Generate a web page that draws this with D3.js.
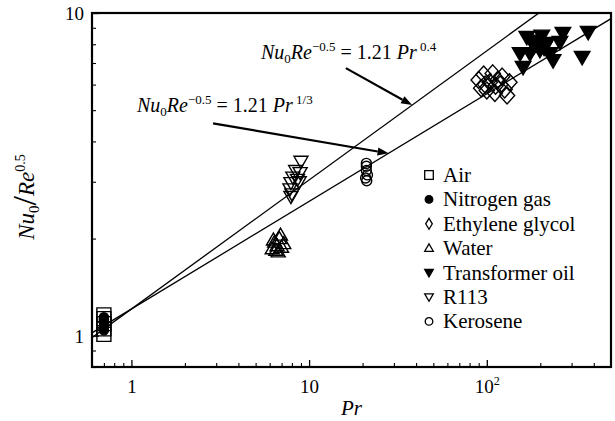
<!DOCTYPE html>
<html>
<head>
<meta charset="utf-8">
<script src="https://cdn.jsdelivr.net/npm/d3@7"></script>
<style>
  body { margin: 0; background: #fff; }
</style>
</head>
<body>
<svg id="chart" width="615" height="421"></svg>
<script>
// ---- data: Prandtl number vs. Nu0 / Re^0.5 for several fluids ----
const airPr   = [0.7, 0.7, 0.7, 0.7, 0.7];
const airNu   = [1.01, 1.05, 1.09, 1.13, 1.16];

const n2Pr    = [0.7, 0.7, 0.7, 0.7, 0.7];
const n2Nu    = [1.04, 1.07, 1.10, 1.12, 1.14];

const egPr    = [90, 93, 96, 100, 104, 108, 111, 115, 119, 122, 126, 130, 98, 134, 112];
const egNu    = [6.2, 5.85, 6.45, 5.75, 6.1, 6.5, 5.65, 6.2, 6.0, 6.35, 5.8, 5.55, 6.0, 6.1, 5.95];

const waterPr = [6.2, 6.4, 6.5, 6.6, 6.8, 6.9, 7.0, 7.2, 6.3, 6.7];
const waterNu = [1.86, 1.95, 1.84, 1.9, 2.0, 2.05, 1.88, 1.93, 1.98, 1.82];

const oilPr   = [154, 160, 168, 175, 180, 191, 199, 204, 218, 227, 236, 258, 268, 344, 372, 185, 210];
const oilNu   = [7.5, 6.8, 8.42, 7.5, 8.13, 8.2, 7.67, 8.5, 8.07, 7.5, 7.14, 8.13, 8.67, 7.3, 8.73, 7.9, 7.8];

const r113Pr  = [9.0, 8.4, 8.9, 8.1, 8.6, 7.9, 8.8, 7.8, 8.0, 7.9];
const r113Nu  = [3.47, 3.25, 3.2, 3.1, 3.05, 2.98, 3.0, 2.85, 2.75, 2.7];

const keroPr  = [21, 21, 21, 21.3, 20.8, 21.1];
const keroNu  = [3.42, 3.35, 3.25, 3.15, 3.08, 3.02];

// correlations Nu0 Re^-0.5 = C Pr^n
const fitCoef = [1.21, 1.21];
const fitExp  = [0.4, 1 / 3];

// annotation anchors (data space): label start, arrow tail, Pr where the arrow meets its line
const labelPr   = [5.36, 1.075];
const labelNu   = [7.2, 4.93];
const tailPr    = [16.1, 2.88];
const tailNu    = [6.75, 4.55];
const headPr    = [38, 28];

const legendNames = ["Air", "Nitrogen gas", "Ethylene glycol", "Water", "Transformer oil", "R113", "Kerosene"];

const prDomain = [0.6, 500];
const nuDomain = [0.8, 10];
const xMajor = [1, 10, 100];
const xMinor = [0.6, 0.7, 0.8, 0.9, 2, 3, 4, 5, 6, 7, 8, 9, 20, 30, 40, 50, 60, 70, 80, 90, 200, 300, 400];
const yMajor = [1, 10];
const yMinor = [0.8, 0.9, 2, 3, 4, 5, 6, 7, 8, 9];

// ---- layout ----
const FONT = '"Liberation Serif"';
const W = 615, H = 421;
const margin = { top: 13, right: 4, bottom: 54, left: 92 };
const svg = d3.select("#chart");

const x = d3.scaleLog().domain(prDomain).range([margin.left, W - margin.right]);
const y = d3.scaleLog().domain(nuDomain).range([H - margin.bottom, margin.top]);

function serif(sel, size) {
  return sel.style("font-family", FONT).attr("font-size", size).attr("fill", "#000");
}

const series = [
  { name: legendNames[0], pr: airPr,   nu: airNu,   shape: "square",  filled: false, size: 7 },
  { name: legendNames[1], pr: n2Pr,    nu: n2Nu,    shape: "circle",  filled: true,  size: 4.6 },
  { name: legendNames[2], pr: egPr,    nu: egNu,    shape: "diamond", filled: false, size: 8.5 },
  { name: legendNames[3], pr: waterPr, nu: waterNu, shape: "triUp",   filled: false, size: 7 },
  { name: legendNames[4], pr: oilPr,   nu: oilNu,   shape: "triDown", filled: true,  size: 7.8 },
  { name: legendNames[5], pr: r113Pr,  nu: r113Nu,  shape: "triDown", filled: false, size: 7 },
  { name: legendNames[6], pr: keroPr,  nu: keroNu,  shape: "circle",  filled: false, size: 5 }
];

function shapePath(type, cx, cy, s, dx = 0.9) {
  const p = d3.path();
  switch (type) {
    case "square":
      p.rect(cx - s, cy - s, 2 * s, 2 * s); break;
    case "circle":
      p.moveTo(cx + s, cy); p.arc(cx, cy, s, 0, 2 * Math.PI); p.closePath(); break;
    case "diamond":
      p.moveTo(cx, cy - s); p.lineTo(cx + s * dx, cy); p.lineTo(cx, cy + s); p.lineTo(cx - s * dx, cy); p.closePath(); break;
    case "triUp":
      p.moveTo(cx, cy - s); p.lineTo(cx + s, cy + s * 0.72); p.lineTo(cx - s, cy + s * 0.72); p.closePath(); break;
    case "triDown":
      p.moveTo(cx - s, cy - s * 0.72); p.lineTo(cx + s, cy - s * 0.72); p.lineTo(cx, cy + s); p.closePath(); break;
  }
  return p.toString();
}

// clip for the correlation lines
svg.append("defs").append("clipPath").attr("id", "plotClip")
  .append("rect")
  .attr("x", margin.left).attr("y", margin.top)
  .attr("width", W - margin.left - margin.right)
  .attr("height", H - margin.top - margin.bottom);

// ---- axes (ticks point inward) ----
const xAxisY = H - margin.bottom;
const gx = svg.append("g").attr("transform", `translate(0,${xAxisY})`);
gx.call(d3.axisBottom(x).tickValues(xMajor).tickSize(-7).tickFormat(() => ""));
gx.call(g => g.select(".domain").remove());
gx.selectAll(".tick line").attr("stroke", "#000").attr("stroke-width", 1.3);
gx.selectAll(".tick text").remove();
gx.selectAll(".tick").append("text")
  .attr("y", 26).attr("text-anchor", "middle")
  .call(serif, 19)
  .each(function (d) {
    const t = d3.select(this);
    if (d >= 100) {
      const e = Math.round(Math.log10(d));
      t.append("tspan").text("10");
      t.append("tspan").attr("dy", -8).attr("font-size", 12).text(e);
    } else {
      t.text(d);
    }
  });

const gxm = svg.append("g").attr("transform", `translate(0,${xAxisY})`);
gxm.call(d3.axisBottom(x).tickValues(xMinor).tickSize(-4).tickFormat(""));
gxm.call(g => g.select(".domain").remove());
gxm.selectAll(".tick line").attr("stroke", "#000").attr("stroke-width", 1.1);

const gy = svg.append("g").attr("transform", `translate(${margin.left},0)`);
gy.call(d3.axisLeft(y).tickValues(yMajor).tickSize(-7).tickPadding(8).tickFormat(d3.format("d")));
gy.call(g => g.select(".domain").remove());
gy.selectAll(".tick line").attr("stroke", "#000").attr("stroke-width", 1.3);
gy.selectAll(".tick text").call(serif, 19).attr("dy", "0.35em");

const gym = svg.append("g").attr("transform", `translate(${margin.left},0)`);
gym.call(d3.axisLeft(y).tickValues(yMinor).tickSize(-4).tickFormat(""));
gym.call(g => g.select(".domain").remove());
gym.selectAll(".tick line").attr("stroke", "#000").attr("stroke-width", 1.1);

// plot frame
svg.append("rect")
  .attr("x", margin.left).attr("y", margin.top)
  .attr("width", W - margin.left - margin.right)
  .attr("height", H - margin.top - margin.bottom)
  .attr("fill", "none").attr("stroke", "#000").attr("stroke-width", 2.2);

// ---- correlation lines ----
const line = d3.line().x(d => x(d[0])).y(d => y(d[1]));
const fitG = svg.append("g").attr("clip-path", "url(#plotClip)");
fitCoef.forEach((c, i) => {
  const pts = prDomain.map(p => [p, c * Math.pow(p, fitExp[i])]);
  fitG.append("path").attr("d", line(pts))
    .attr("fill", "none").attr("stroke", "#000").attr("stroke-width", 1.3);
});

// ---- data markers ----
const markG = svg.append("g");
series.forEach(s => {
  markG.append("g").selectAll("path")
    .data(s.pr.map((p, i) => [p, s.nu[i]]))
    .join("path")
    .attr("d", d => shapePath(s.shape, x(d[0]), y(d[1]), s.size))
    .attr("fill", s.filled ? "#000" : "none")
    .attr("stroke", "#000").attr("stroke-width", 1.4)
    .attr("stroke-linejoin", "miter");
});

// ---- annotations ----
function equation(g, px, py, expText) {
  const t = g.append("text").attr("x", px).attr("y", py).call(serif, 20);
  t.append("tspan").attr("font-style", "italic").text("Nu");
  t.append("tspan").attr("font-size", 13).attr("dy", 4).text("0");
  t.append("tspan").attr("font-style", "italic").attr("dy", -4).text("Re");
  t.append("tspan").attr("font-size", 13).attr("dy", -8).text("\u22120.5");
  t.append("tspan").attr("dy", 8).text(" = 1.21 ");
  t.append("tspan").attr("font-style", "italic").text("Pr");
  t.append("tspan").attr("font-size", 13).attr("dy", -8).text(" " + expText);
}
const annG = svg.append("g");
const expLabels = ["0.4", "1/3"];
fitCoef.forEach((c, i) => {
  equation(annG, x(labelPr[i]), y(labelNu[i]), expLabels[i]);
  const hx = x(headPr[i]), hy = y(c * Math.pow(headPr[i], fitExp[i]));
  const tx = x(tailPr[i]), ty = y(tailNu[i]);
  const ang = Math.atan2(hy - ty, hx - tx);
  const L = 11, Wd = 4;
  const bx = hx - L * Math.cos(ang), by = hy - L * Math.sin(ang);
  annG.append("line").attr("x1", tx).attr("y1", ty).attr("x2", bx).attr("y2", by)
    .attr("stroke", "#000").attr("stroke-width", 2.2);
  annG.append("path")
    .attr("d", `M${hx},${hy}L${bx - Wd * Math.sin(ang)},${by + Wd * Math.cos(ang)}L${bx + Wd * Math.sin(ang)},${by - Wd * Math.cos(ang)}Z`)
    .attr("fill", "#000");
});

// ---- legend ----
const legX = 429, legY0 = 175, legStep = 24.4;
const legG = svg.append("g");
series.forEach((s, i) => {
  const cy = legY0 + i * legStep;
  const sz = s.shape === "circle" ? 3.8 : (s.shape === "diamond" ? 5.5 : 4.3);
  legG.append("path").attr("d", shapePath(s.shape, legX, cy, sz, 0.6))
    .attr("fill", s.filled ? "#000" : "none")
    .attr("stroke", "#000").attr("stroke-width", 1.3);
  legG.append("text").attr("x", legX + 14).attr("y", cy).attr("dy", "0.33em")
    .call(serif, 21).text(s.name);
});

// ---- axis titles ----
svg.append("text")
  .attr("x", (margin.left + W - margin.right) / 2).attr("y", 415)
  .attr("text-anchor", "middle").call(serif, 21).attr("font-style", "italic")
  .text("Pr");

const yt = svg.append("text")
  .attr("transform", `translate(34,197) rotate(-90)`)
  .attr("text-anchor", "middle").call(serif, 23);
yt.append("tspan").attr("font-style", "italic").text("Nu");
yt.append("tspan").attr("font-size", 15).attr("dy", 5).text("0");
yt.append("tspan").attr("font-size", 34).attr("dy", -3).text("/");
yt.append("tspan").attr("font-style", "italic").attr("dy", -2).text("Re");
yt.append("tspan").attr("font-size", 14).attr("dy", -9).text("0.5");
</script>
</body>
</html>
